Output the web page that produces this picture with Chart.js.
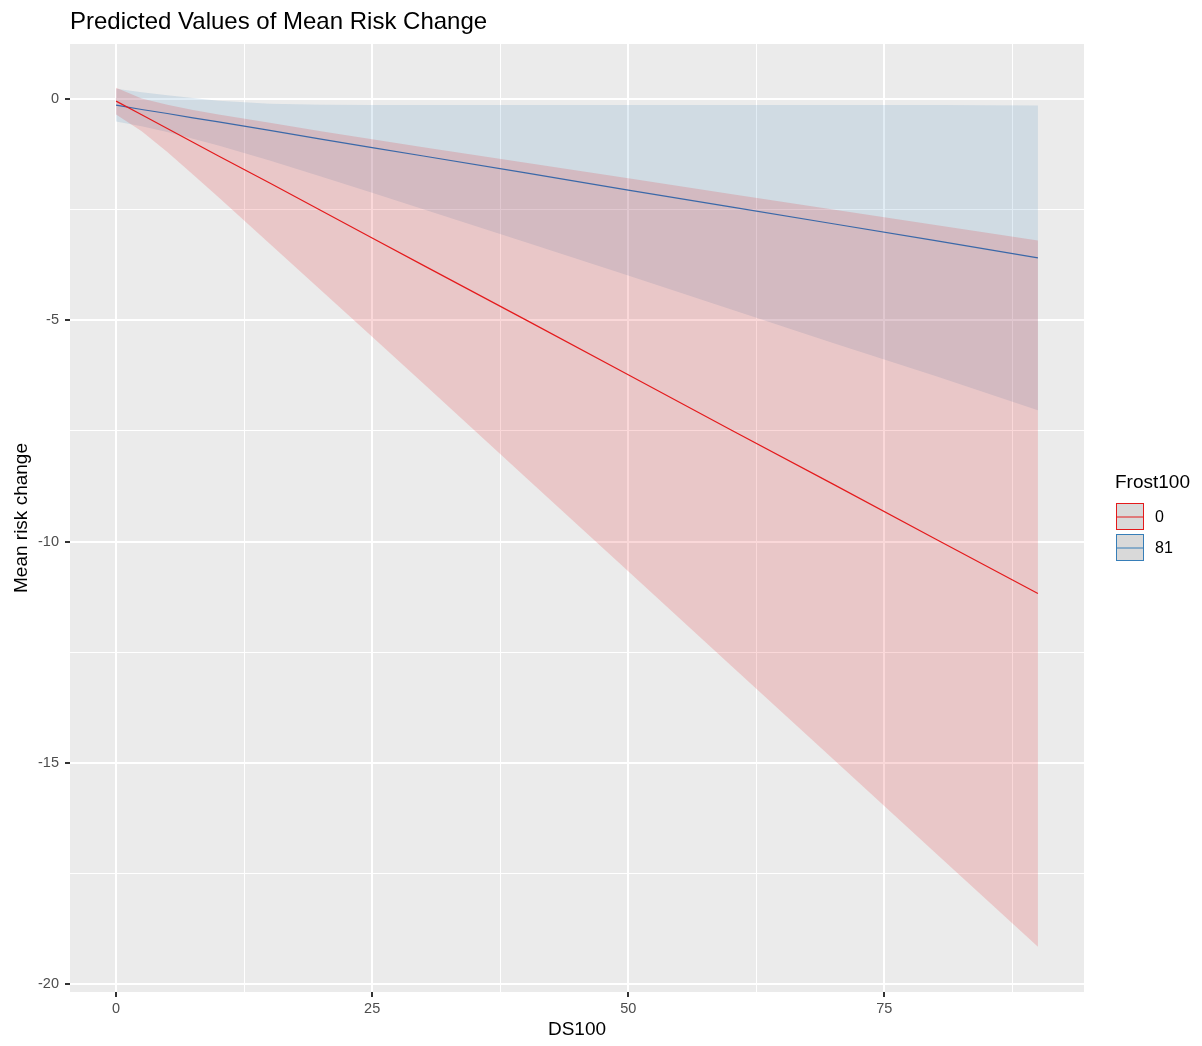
<!DOCTYPE html>
<html>
<head>
<meta charset="utf-8">
<script src="https://cdn.jsdelivr.net/npm/chart.js@4/dist/chart.umd.min.js"></script>
<style>
  body { margin: 0; background: #fff; }
  canvas { display: block; }
</style>
</head>
<body>
<canvas id="chart" width="1202" height="1046"></canvas>
<script>
// values
const ds100 = [0, 2.5, 5, 7.5, 10, 15, 20, 25, 30, 40, 50, 60, 70, 80, 90];

const frost0Pred  = [-0.05, -0.36, -0.67, -0.98, -1.29, -1.90, -2.52, -3.14, -3.76, -4.99, -6.23, -7.47, -8.70, -9.94, -11.17];
const frost0Upper = [0.25, 0.01, -0.13, -0.25, -0.35, -0.54, -0.73, -0.91, -1.09, -1.44, -1.79, -2.15, -2.50, -2.85, -3.20];
const frost0Lower = [-0.35, -0.73, -1.20, -1.71, -2.22, -3.27, -4.32, -5.37, -6.43, -8.55, -10.67, -12.79, -14.91, -17.03, -19.15];

const frost81Pred  = [-0.14, -0.24, -0.33, -0.43, -0.52, -0.71, -0.91, -1.10, -1.29, -1.67, -2.06, -2.44, -2.82, -3.20, -3.59];
const frost81Upper = [0.23, 0.15, 0.08, 0.02, -0.04, -0.11, -0.13, -0.14, -0.14, -0.14, -0.14, -0.14, -0.14, -0.14, -0.15];
const frost81Lower = [-0.51, -0.62, -0.75, -0.90, -1.05, -1.39, -1.75, -2.12, -2.49, -3.24, -3.99, -4.75, -5.51, -6.26, -7.03];

const xTicks = [0, 12.5, 25, 37.5, 50, 62.5, 75, 87.5];
const yTicks = [0, -2.5, -5, -7.5, -10, -12.5, -15, -17.5, -20];
const groups = ["0", "81"];

const red = "#e41a1c";
const blue = "#377eb8";
const font = "'Liberation Sans', Arial, sans-serif";

const pts = arr => arr.map((v, i) => ({ x: ds100[i], y: v }));

const ribbon = (data, color, fill) => ({
  data: pts(data), borderWidth: 0, pointRadius: 0, backgroundColor: color, fill: fill, tension: 0,
});

const panelBg = {
  id: "panelBg",
  beforeDraw(chart) {
    const { ctx, chartArea: a } = chart;
    ctx.save();
    ctx.fillStyle = "#fff";
    ctx.fillRect(0, 0, chart.width, chart.height);
    ctx.fillStyle = "#ebebeb";
    ctx.fillRect(a.left, a.top, a.right - a.left, a.bottom - a.top);
    ctx.restore();
  },
  afterDraw(chart) {
    const { ctx, chartArea: a } = chart;
    ctx.save();
    ctx.fillStyle = "#000";
    ctx.textBaseline = "middle";
    ctx.font = "24px " + font;
    ctx.textAlign = "left";
    ctx.fillText("Predicted Values of Mean Risk Change", 70, 22);

    ctx.font = "19px " + font;
    ctx.textAlign = "center";
    ctx.fillText("DS100", (a.left + a.right) / 2, 1030);
    ctx.save();
    ctx.translate(22, (a.top + a.bottom) / 2);
    ctx.rotate(-Math.PI / 2);
    ctx.fillText("Mean risk change", 0, 0);
    ctx.restore();

    // legend
    ctx.textAlign = "left";
    ctx.fillText("Frost100", 1115, 483);
    const cols = [red, blue];
    groups.forEach((g, i) => {
      const y = 503 + i * 31;
      ctx.fillStyle = "#d9d9d9";
      ctx.fillRect(1116, y, 28, 27);
      ctx.strokeStyle = cols[i];
      ctx.lineWidth = 1;
      ctx.strokeRect(1116.5, y + 0.5, 27, 26);
      ctx.beginPath();
      ctx.moveTo(1117, y + 14);
      ctx.lineTo(1143, y + 14);
      ctx.stroke();
      ctx.fillStyle = "#000";
      ctx.font = "16px " + font;
      ctx.fillText(g, 1155, y + 15);
    });
    ctx.restore();
  },
};

new Chart("chart", {
  type: "line",
  data: {
    datasets: [
      ribbon(frost0Upper, "rgba(228, 26, 28, 0.17)", "+1"),
      ribbon(frost0Lower, "rgba(0,0,0,0)", false),
      ribbon(frost81Upper, "rgba(55, 126, 184, 0.15)", "+1"),
      ribbon(frost81Lower, "rgba(0,0,0,0)", false),
      { data: pts(frost0Pred), borderColor: red, borderWidth: 1.2, pointRadius: 0, fill: false },
      { data: pts(frost81Pred), borderColor: "#3a68a8", borderWidth: 1.2, pointRadius: 0, fill: false },
    ],
  },
  options: {
    responsive: false,
    animation: false,
    layout: { padding: { top: 44, right: 118, left: 0, bottom: 0 } },
    plugins: {
      legend: { display: false },
      tooltip: { enabled: false },
      filler: { drawTime: "beforeDatasetsDraw" },
    },
    scales: {
      x: {
        type: "linear",
        min: -4.5,
        max: 94.5,
        afterBuildTicks: s => { s.ticks = xTicks.map(v => ({ value: v })); },
        afterFit: s => { s.height = 54; },
        border: { display: false },
        grid: {
          color: "#fff",
          lineWidth: c => (c.tick && c.tick.value % 25 === 0 ? 2 : 1),
          tickColor: c => (c.tick && c.tick.value % 25 === 0 ? "#333" : "rgba(0,0,0,0)"),
          tickLength: 5,
        },
        ticks: {
          color: "#4d4d4d",
          font: { family: font, size: 14.5 },
          padding: 3,
          maxRotation: 0,
          callback: v => (v % 25 === 0 ? String(v) : ""),
        },
      },
      y: {
        type: "linear",
        min: -20.17,
        max: 1.24,
        afterBuildTicks: s => { s.ticks = yTicks.map(v => ({ value: v })); },
        afterFit: s => { s.width = 70; },
        border: { display: false },
        grid: {
          color: "#fff",
          lineWidth: c => (c.tick && c.tick.value % 5 === 0 ? 2 : 1),
          tickColor: c => (c.tick && c.tick.value % 5 === 0 ? "#333" : "rgba(0,0,0,0)"),
          tickLength: 5,
        },
        ticks: {
          color: "#4d4d4d",
          font: { family: font, size: 14.5 },
          padding: 6,
          callback: v => (v % 5 === 0 ? String(v) : ""),
        },
      },
    },
  },
  plugins: [panelBg],
});
</script>
</body>
</html>
